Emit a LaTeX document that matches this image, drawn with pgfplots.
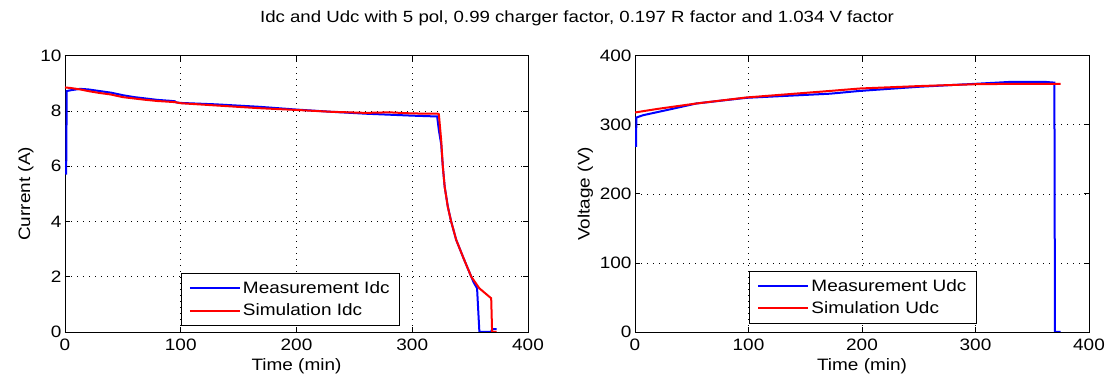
\documentclass[border=0pt]{standalone}
\usepackage{fontspec}
\setmainfont{Liberation Sans}[FakeStretch=1.15]
\usepackage{pgfplots}
\pgfplotsset{compat=1.18}
\definecolor{mblue}{RGB}{0,0,255}
\definecolor{mred}{RGB}{255,0,0}
\pgfplotsset{
 myax/.style={
  scale only axis, height=276.3pt,
  xmin=0,xmax=400,
  grid=major,
  major grid style={black, line width=0.6pt, dash pattern=on 1pt off 5pt},
  axis line style={line width=0.8pt},
  every tick/.style={black, line width=0.8pt},
  major tick length=5pt,
  tick align=inside,
  /pgf/number format/assume math mode=true,
  ticklabel style={font=\fontsize{16.5}{19}\selectfont},
  xticklabel style={yshift=-3pt},
  label style={font=\fontsize{16.5}{19}\selectfont},
  xlabel style={yshift=-1pt},
  xtick={0,100,200,300,400},
  xlabel={Time (min)},
  legend style={draw=black, line width=0.8pt, fill=white, font=\fontsize{16.5}{19}\selectfont, inner xsep=8pt, inner ysep=6pt, row sep=5pt},
  legend cell align=left,
  legend image code/.code={\draw[#1] (0pt,0pt) -- (50pt,0pt);},
 },
 mline/.style={line width=2pt, no markers},
}
\begin{document}
\begin{tikzpicture}
\path[use as bounding box] (0pt,0pt) rectangle (1113pt,382pt);
\node[font=\fontsize{16.2}{19}\selectfont] at (577pt,364pt) {Idc and Udc with 5 pol, 0.99 charger factor, 0.197 R factor and 1.034 V factor};
\begin{axis}[myax, at={(65pt,50pt)}, anchor=south west, width=463pt,
  ymin=0, ymax=10, ytick={0,2,4,6,8,10}, ylabel={Current (A)},
  legend style={at={(0.7235,0.023)}, anchor=south east}]
\addplot[mline, mblue] coordinates {
(1,5.7)(1.5,8.72)(5,8.75)(13,8.8)(20,8.78)(30,8.72)(40,8.66)(50,8.57)(60,8.5)(70,8.45)(80,8.4)(90,8.37)(95,8.35)(96,8.31)(100,8.29)(130,8.24)(168,8.15)(200,8.05)(230,7.97)(260,7.9)(300,7.83)(321.5,7.8)(323,7.3)(325,6.8)(326.4,6.0)(328,5.26)(330.7,4.55)(333.6,4.0)(338,3.33)(345,2.6)(351,2.0)(353,1.8)(356,1.58)(358,0)(368,0)(369,0.1)(373,0.1)
};
\addlegendentry{Measurement Idc}
\addplot[mline, mred] coordinates {
(0,8.85)(5,8.83)(13,8.78)(20,8.72)(30,8.65)(39,8.6)(50,8.5)(60,8.45)(68,8.41)(80,8.36)(95,8.32)(100,8.28)(130,8.2)(168,8.1)(203,8.03)(230,7.97)(260,7.93)(280,7.95)(300,7.91)(322,7.9)(323,7.88)(325,6.94)(326.4,6.0)(328,5.26)(330.7,4.53)(333.6,4.0)(338,3.33)(345,2.6)(351,2.0)(358,1.58)(368.2,1.22)(369,0)(373,0)
};
\addlegendentry{Simulation Idc}
\end{axis}
\begin{axis}[myax, at={(635pt,50pt)}, anchor=south west, width=454pt,
  ymin=0, ymax=400, ytick={0,100,200,300,400}, ylabel={Voltage (V)},
  legend style={at={(0.753,0.031)}, anchor=south east}]
\addplot[mline, mblue] coordinates {
(0.9,268)(1.2,310.5)(7.3,313.9)(30,322)(54,330.8)(98,339)(172,345)(198,349)(250,355)(300,359.3)(330,362)(362,362)(369.5,361)(370,0)(375,0)
};
\addlegendentry{Measurement Udc}
\addplot[mline, mred] coordinates {
(0,317.8)(20,323)(54,330.8)(98,339.5)(172,349)(198,352.5)(250,356)(300,358.7)(330,359.2)(375,359.3)
};
\addlegendentry{Simulation Udc}
\end{axis}
\end{tikzpicture}
\end{document}
